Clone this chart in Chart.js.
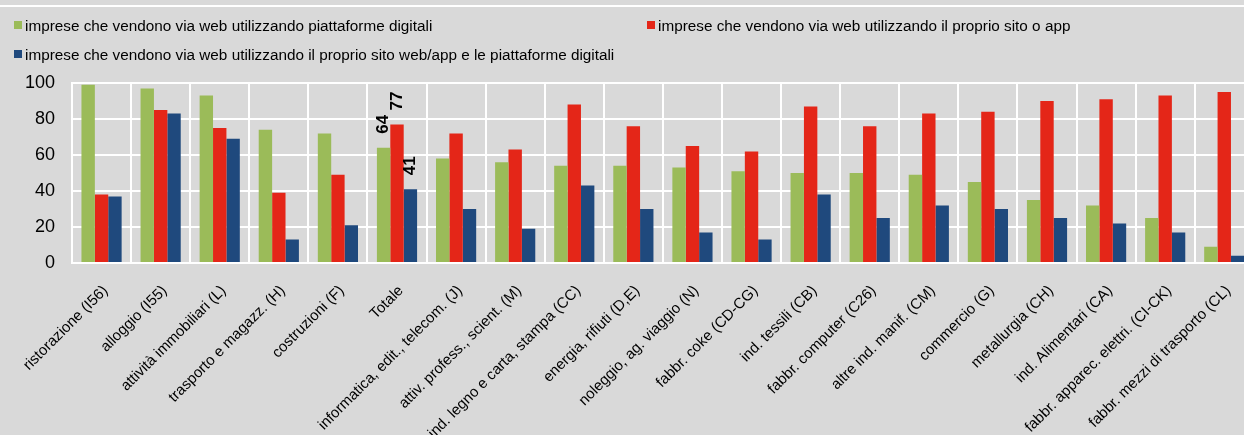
<!DOCTYPE html>
<html>
<head>
<meta charset="utf-8">
<script src="https://cdn.jsdelivr.net/npm/chart.js@4.4.1/dist/chart.umd.min.js"></script>
<style>
  html, body { margin: 0; padding: 0; background: #d9d9d9; overflow: hidden; }
  #wrap { position: relative; width: 1244px; height: 435px; overflow: hidden; background: #d9d9d9; }
  #linea { position: absolute; left: 0; top: 5px; width: 100%; height: 2px; background: #fff; }
  #chart { position: absolute; left: 0; top: 0; }
  .leg { position: absolute; font: 15.3px 'Liberation Sans', Arial, sans-serif; color: #000; white-space: nowrap; line-height: 16px; }
  .leg i { display: inline-block; width: 8px; height: 8px; margin-right: 3px; vertical-align: 2px; }
</style>
</head>
<body>
<div id="wrap">
  <div id="linea"></div>
  <canvas id="chart" width="1256" height="470"></canvas>
  <div id="legenda"></div>
</div>
<script>
// === DATI ===
const categorie = [
  'ristorazione (I56)', 'alloggio (I55)', 'attività immobiliari (L)', 'trasporto e magazz. (H)',
  'costruzioni (F)', 'Totale', 'informatica, edit., telecom. (J)', 'attiv. profess., scient. (M)',
  'ind. legno e carta, stampa (CC)', 'energia, rifiuti (D,E)', 'noleggio, ag. viaggio (N)',
  'fabbr. coke (CD-CG)', 'ind. tessili (CB)', 'fabbr. computer (C26)', 'altre ind. manif. (CM)',
  'commercio (G)', 'metallurgia (CH)', 'ind. Alimentari (CA)', 'fabbr. apparec. elettri. (CI-CK)',
  'fabbr. mezzi di trasporto (CL)'
];
const piattaforme = [99, 97, 93, 74, 72, 64, 58, 56, 54, 54, 53, 51, 50, 50, 49, 45, 35, 32, 25, 9];
const sitoApp     = [38, 85, 75, 39, 49, 77, 72, 63, 88, 76, 65, 62, 87, 76, 83, 84, 90, 91, 93, 95];
const entrambi    = [37, 83, 69, 13, 21, 41, 30, 19, 43, 30, 17, 13, 38, 25, 32, 30, 25, 22, 17, 4];
const etichetteSerie = [
  'imprese che vendono via web utilizzando piattaforme digitali',
  'imprese che vendono via web utilizzando il proprio sito o app',
  'imprese che vendono via web utilizzando il proprio sito web/app e le piattaforme digitali'
];
const yTicks = [0, 20, 40, 60, 80, 100];
const categoriaEtichettata = 'Totale';

const colori = ['#9bbb59', '#e42618', '#1f497d'];
const font = "'Liberation Sans', Arial, sans-serif";

// etichette verticali sopra le barre del Totale
const etichettePlugin = {
  id: 'etichette',
  afterDatasetsDraw(chart) {
    const i = categorie.indexOf(categoriaEtichettata);
    const { ctx } = chart;
    chart.data.datasets.forEach((ds, d) => {
      const bar = chart.getDatasetMeta(d).data[i];
      ctx.save();
      ctx.font = 'bold 17px ' + font;
      ctx.fillStyle = '#000';
      ctx.translate(bar.x, bar.y - 14);
      ctx.rotate(-Math.PI / 2);
      ctx.textAlign = 'left';
      ctx.textBaseline = 'middle';
      ctx.fillText(Math.round(ds.data[i]), 0, 0);
      ctx.restore();
    });
  }
};

const chart = new Chart(document.getElementById('chart'), {
  type: 'bar',
  data: {
    labels: categorie,
    datasets: [piattaforme, sitoApp, entrambi].map((valori, k) => ({
      label: etichetteSerie[k],
      data: valori,
      backgroundColor: colori[k],
      borderWidth: 0,
      categoryPercentage: 0.68,
      barPercentage: 1
    }))
  },
  options: {
    responsive: false,
    animation: false,
    layout: { padding: { top: 83, left: 0, right: 0, bottom: 0 } },
    plugins: { legend: { display: false }, tooltip: { enabled: false } },
    scales: {
      x: {
        grid: { color: '#fff', lineWidth: 2, offset: true, drawTicks: false },
        border: { color: '#fff', width: 2 },
        ticks: {
          autoSkip: false, minRotation: 45, maxRotation: 45, padding: 19, labelOffset: 4,
          color: '#000', font: { family: font, size: 15 }
        },
        afterFit: s => { s.height = 207; }
      },
      y: {
        min: 0, max: 100,
        afterBuildTicks: s => { s.ticks = yTicks.map(v => ({ value: v })); },
        grid: { color: '#fff', lineWidth: 2, drawTicks: false },
        border: { color: '#fff', width: 2 },
        ticks: { padding: 17, color: '#000', font: { family: font, size: 18 } },
        afterFit: s => { s.width = 72; }
      }
    }
  },
  plugins: [etichettePlugin]
});

// legenda HTML
const posizioni = [[14, 18], [647, 18], [14, 47]];
const legenda = document.getElementById('legenda');
chart.data.datasets.forEach((ds, k) => {
  const el = document.createElement('div');
  el.className = 'leg';
  el.style.left = posizioni[k][0] + 'px';
  el.style.top = posizioni[k][1] + 'px';
  el.innerHTML = '<i style="background:' + ds.backgroundColor + '"></i>' + ds.label;
  legenda.appendChild(el);
});
</script>
</body>
</html>
